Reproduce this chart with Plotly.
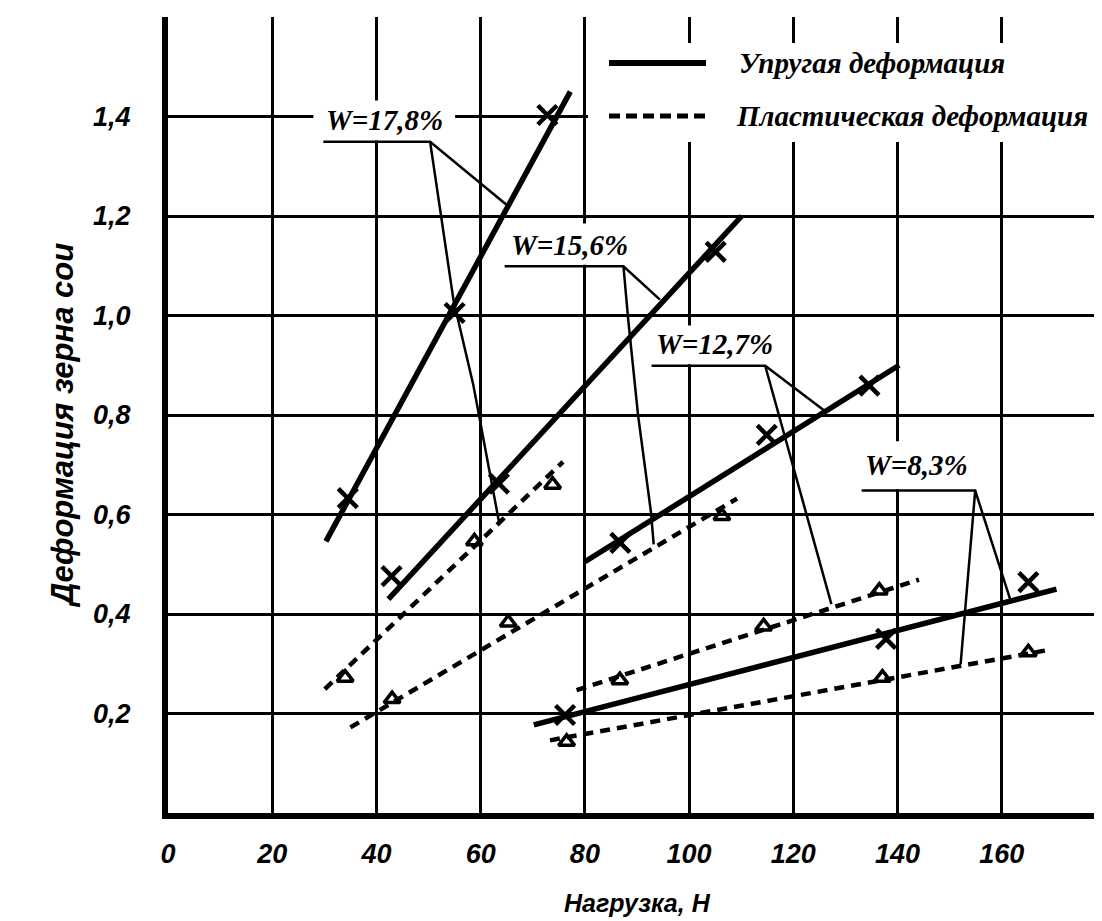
import plotly.graph_objects as go

# ---------------- data ----------------
x_ticks = [0, 20, 40, 60, 80, 100, 120, 140, 160]
x_tick_text = ["0", "20", "40", "60", "80", "100", "120", "140", "160"]
y_ticks = [0.2, 0.4, 0.6, 0.8, 1.0, 1.2, 1.4]
y_tick_text = ["0,2", "0,4", "0,6", "0,8", "1,0", "1,2", "1,4"]

w_labels = ["W=17,8%", "W=15,6%", "W=12,7%", "W=8,3%"]

# elastic deformation (crosses) and fitted lines
el_x_178 = [34.5, 55.0, 72.8]
el_y_178 = [0.633, 1.005, 1.403]
el_fit_x_178 = [30.3, 77.2]
el_fit_y_178 = [0.546, 1.45]

el_x_156 = [42.9, 63.5, 105.1]
el_y_156 = [0.476, 0.662, 1.128]
el_fit_x_156 = [42.3, 110.1]
el_fit_y_156 = [0.43, 1.20]

el_x_127 = [86.8, 114.9, 134.6]
el_y_127 = [0.543, 0.760, 0.859]
el_fit_x_127 = [80.0, 140.3]
el_fit_y_127 = [0.505, 0.90]

el_x_83 = [76.2, 137.8, 165.1]
el_y_83 = [0.197, 0.350, 0.464]
el_fit_x_83 = [70.2, 170.5]
el_fit_y_83 = [0.177, 0.45]

# plastic deformation (triangles) and fitted lines
pl_x_178 = [34.0, 58.8, 73.8]
pl_y_178 = [0.272, 0.546, 0.660]
pl_fit_x_178 = [30.1, 75.8]
pl_fit_y_178 = [0.249, 0.706]

pl_x_156 = [43.0, 65.3, 106.3]
pl_y_156 = [0.229, 0.383, 0.597]
pl_fit_x_156 = [35.0, 109.2]
pl_fit_y_156 = [0.172, 0.632]

pl_x_127 = [86.7, 114.3, 136.5]
pl_y_127 = [0.267, 0.375, 0.447]
pl_fit_x_127 = [78.4, 144.1]
pl_fit_y_127 = [0.247, 0.469]

pl_x_83 = [76.5, 137.1, 165.1]
pl_y_83 = [0.143, 0.272, 0.323]
pl_fit_x_83 = [73.3, 168.6]
pl_fit_y_83 = [0.146, 0.327]

# label positions (centre) and leader lines
label_x = [41.5, 77.0, 104.8, 143.7]
label_y = [1.392, 1.142, 0.942, 0.700]
label_box_x0 = [27.9, 63.6, 91.9, 132.4]
label_box_x1 = [55.1, 89.6, 117.6, 155.4]
label_box_y0 = [1.352, 1.102, 0.902, 0.651]
label_box_y1 = [1.432, 1.185, 0.980, 0.747]

lead_x_178 = [29.8, 50.3, 64.9, None, 50.3, 54.8, 58.6, 63.5]
lead_y_178 = [1.349, 1.349, 1.223, None, 1.349, 1.03, 0.86, 0.586]
lead_x_156 = [64.6, 87.4, 94.4, None, 87.4, 88.3, 90.2, 92.7, 93.2]
lead_y_156 = [1.099, 1.099, 1.032, None, 1.099, 0.993, 0.80, 0.603, 0.54]
lead_x_127 = [92.8, 114.6, 125.8, None, 114.6, 123.8, 127.3]
lead_y_127 = [0.899, 0.899, 0.81, None, 0.899, 0.55, 0.42]
lead_x_83 = [133.1, 154.9, 161.6, None, 154.9, 152.1]
lead_y_83 = [0.648, 0.648, 0.43, None, 0.648, 0.299]

legend_names = ["Упругая деформация", "Пластическая деформация"]

# ---------------- figure ----------------
BLACK = "#000000"
fig = go.Figure()

elastic = [
    (el_x_178, el_y_178, el_fit_x_178, el_fit_y_178),
    (el_x_156, el_y_156, el_fit_x_156, el_fit_y_156),
    (el_x_127, el_y_127, el_fit_x_127, el_fit_y_127),
    (el_x_83, el_y_83, el_fit_x_83, el_fit_y_83),
]
plastic = [
    (pl_x_178, pl_y_178, pl_fit_x_178, pl_fit_y_178),
    (pl_x_156, pl_y_156, pl_fit_x_156, pl_fit_y_156),
    (pl_x_127, pl_y_127, pl_fit_x_127, pl_fit_y_127),
    (pl_x_83, pl_y_83, pl_fit_x_83, pl_fit_y_83),
]

for i, (px, py, fx, fy) in enumerate(plastic):
    fig.add_trace(go.Scatter(x=fx, y=fy, mode="lines", name=legend_names[1] + " " + w_labels[i],
                             line=dict(color=BLACK, width=4.5, dash="10px,7px"),
                             showlegend=False, hoverinfo="skip"))
    fig.add_trace(go.Scatter(x=px, y=py, mode="markers", name=w_labels[i],
                             marker=dict(symbol="triangle-up-open", size=14, color=BLACK,
                                         line=dict(width=3.5, color=BLACK)),
                             showlegend=False))

for i, (px, py, fx, fy) in enumerate(elastic):
    fig.add_trace(go.Scatter(x=fx, y=fy, mode="lines", name=legend_names[0] + " " + w_labels[i],
                             line=dict(color=BLACK, width=5.5),
                             showlegend=False, hoverinfo="skip"))
    fig.add_trace(go.Scatter(x=px, y=py, mode="markers", name=w_labels[i],
                             marker=dict(symbol="x-thin", size=19, color=BLACK,
                                         line=dict(width=4.5, color=BLACK)),
                             showlegend=False))

for lx, ly in [(lead_x_178, lead_y_178), (lead_x_156, lead_y_156),
               (lead_x_127, lead_y_127), (lead_x_83, lead_y_83)]:
    fig.add_trace(go.Scatter(x=lx, y=ly, mode="lines", line=dict(color=BLACK, width=2.5),
                             showlegend=False, hoverinfo="skip", connectgaps=False))

shapes = []
for i in range(len(w_labels)):
    shapes.append(dict(type="rect", xref="x", yref="y", layer="between",
                       x0=label_box_x0[i], x1=label_box_x1[i],
                       y0=label_box_y0[i], y1=label_box_y1[i],
                       fillcolor="white", line=dict(width=0)))

# right border of the plot frame
shapes.append(dict(type="line", xref="x", yref="paper", x0=180, x1=180, y0=0, y1=1,
                   line=dict(color=BLACK, width=3)))

# legend (drawn by hand to reproduce long sample lines)
PL_L, PL_W, PL_T, PL_H = 160, 938, 9, 796
def px2x(p):
    return (p - PL_L) / PL_W
def py2y(p):
    return (PL_T + PL_H - p) / PL_H

shapes.append(dict(type="rect", xref="paper", yref="paper", layer="above",
                   x0=px2x(580), x1=px2x(1089), y0=py2y(134), y1=py2y(35),
                   fillcolor="white", line=dict(width=0)))
shapes.append(dict(type="line", xref="paper", yref="paper", layer="above",
                   x0=px2x(601), x1=px2x(698), y0=py2y(55), y1=py2y(55),
                   line=dict(color=BLACK, width=6)))
shapes.append(dict(type="line", xref="paper", yref="paper", layer="above",
                   x0=px2x(601), x1=px2x(698), y0=py2y(108), y1=py2y(108),
                   line=dict(color=BLACK, width=5, dash="11px,6px")))

serif = dict(family="Liberation Serif", size=29, color=BLACK, weight="bold", style="italic")

annotations = []
for i, t in enumerate(w_labels):
    annotations.append(dict(x=label_x[i], y=label_y[i], xref="x", yref="y", text=t,
                            showarrow=False, font=serif, xanchor="center", yanchor="middle"))
annotations.append(dict(x=px2x(729), y=py2y(55), xref="paper", yref="paper",
                        text=legend_names[0], showarrow=False, font=serif,
                        xanchor="left", yanchor="middle"))
annotations.append(dict(x=px2x(726), y=py2y(108), xref="paper", yref="paper",
                        text=legend_names[1], showarrow=False, font=serif,
                        xanchor="left", yanchor="middle"))
annotations.append(dict(x=0.5, y=py2y(895), xref="paper", yref="paper",
                        text="Нагрузка, Н", showarrow=False,
                        font=dict(family="Liberation Sans", size=25, color=BLACK, style="italic",
                                  weight="bold"),
                        xanchor="center", yanchor="middle"))
annotations.append(dict(x=px2x(54), y=py2y(418), xref="paper", yref="paper",
                        text="Деформация зерна сои", showarrow=False, textangle=-90,
                        font=dict(family="Liberation Sans", size=31, color=BLACK, style="italic",
                                  weight="bold"),
                        xanchor="center", yanchor="middle"))

tickfont = dict(family="Liberation Sans", size=27, color=BLACK, weight="bold", style="italic")

fig.update_layout(
    width=1102, height=921,
    margin=dict(l=160, r=4, t=9, b=116),
    paper_bgcolor="white", plot_bgcolor="white",
    shapes=shapes, annotations=annotations,
    showlegend=False,
    xaxis=dict(range=[0, 180], tickmode="array", tickvals=x_ticks, ticktext=x_tick_text,
               showgrid=True, gridcolor=BLACK, gridwidth=3, zeroline=False,
               showline=True, linecolor=BLACK, linewidth=6, ticks="",
               tickfont=tickfont, ticklabelstandoff=12),
    yaxis=dict(range=[0, 1.6], tickmode="array", tickvals=y_ticks, ticktext=y_tick_text,
               showgrid=True, gridcolor=BLACK, gridwidth=3, zeroline=False,
               showline=True, linecolor=BLACK, linewidth=6, ticks="",
               tickfont=tickfont, ticklabelstandoff=26),
)

fig.write_html("out.html")
